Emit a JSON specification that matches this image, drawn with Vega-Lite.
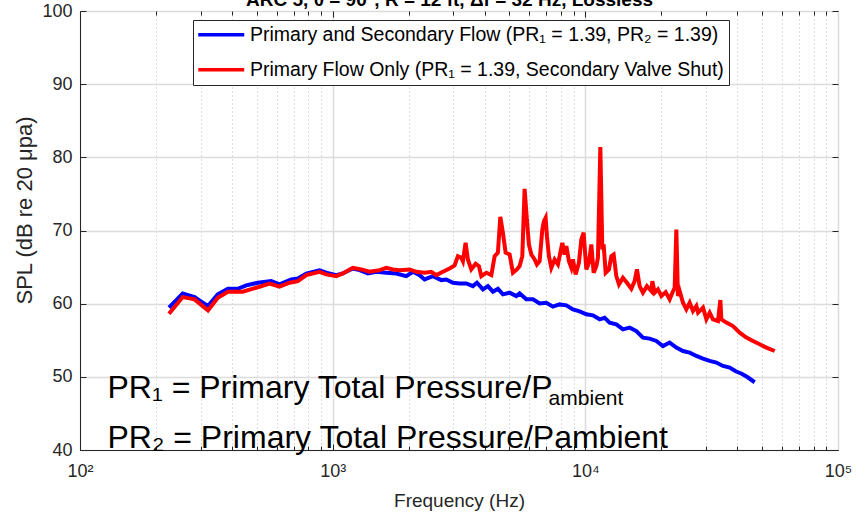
{
  "$schema": "https://vega.github.io/schema/vega-lite/v6.json",
  "width": 758,
  "height": 439,
  "autosize": {"type": "none"},
  "padding": {"left": 80, "top": 11, "right": 27, "bottom": 65},
  "background": "white",
  "config": {
    "view": {"stroke": "#262626", "strokeWidth": 1},
    "font": "Liberation Sans",
    "axis": {"domainColor": "#262626", "tickColor": "#262626", "labelColor": "#262626", "titleColor": "#262626", "labelFont": "Liberation Sans", "titleFont": "Liberation Sans", "labelFontSize": 18, "titleFontSize": 19, "titleFontWeight": "normal", "gridColor": "#DCDCDC", "gridWidth": 1.5, "gridOpacity": 1, "tickWidth": 1}
  },
  "datasets": {
    "spl": [
      {"s": "A", "f": 225, "db": 59.45}, {"s": "A", "f": 255, "db": 61.40}, {"s": "A", "f": 284, "db": 60.90}, {"s": "A", "f": 321, "db": 59.67},
      {"s": "A", "f": 351, "db": 61.27}, {"s": "A", "f": 385, "db": 62.04}, {"s": "A", "f": 421, "db": 62.04}, {"s": "A", "f": 455, "db": 62.50},
      {"s": "A", "f": 506, "db": 62.86}, {"s": "A", "f": 571, "db": 63.08}, {"s": "A", "f": 616, "db": 62.63}, {"s": "A", "f": 686, "db": 63.31},
      {"s": "A", "f": 728, "db": 63.45}, {"s": "A", "f": 786, "db": 64.09}, {"s": "A", "f": 887, "db": 64.54}, {"s": "A", "f": 943, "db": 64.23},
      {"s": "A", "f": 1033, "db": 63.90}, {"s": "A", "f": 1097, "db": 64.13}, {"s": "A", "f": 1202, "db": 64.81}, {"s": "A", "f": 1278, "db": 64.58},
      {"s": "A", "f": 1379, "db": 64.13}, {"s": "A", "f": 1488, "db": 64.36}, {"s": "A", "f": 1630, "db": 64.23}, {"s": "A", "f": 1785, "db": 64.13},
      {"s": "A", "f": 1956, "db": 63.76}, {"s": "A", "f": 2078, "db": 64.36}, {"s": "A", "f": 2208, "db": 63.90}, {"s": "A", "f": 2311, "db": 63.31},
      {"s": "A", "f": 2492, "db": 63.76}, {"s": "A", "f": 2691, "db": 63.22}, {"s": "A", "f": 2817, "db": 63.31}, {"s": "A", "f": 2992, "db": 62.86},
      {"s": "A", "f": 3180, "db": 62.77}, {"s": "A", "f": 3380, "db": 62.77}, {"s": "A", "f": 3590, "db": 62.40}, {"s": "A", "f": 3724, "db": 62.86},
      {"s": "A", "f": 3933, "db": 61.95}, {"s": "A", "f": 4116, "db": 62.40}, {"s": "A", "f": 4308, "db": 61.64}, {"s": "A", "f": 4508, "db": 62.04},
      {"s": "A", "f": 4718, "db": 61.27}, {"s": "A", "f": 5016, "db": 61.50}, {"s": "A", "f": 5332, "db": 61.04}, {"s": "A", "f": 5494, "db": 61.40},
      {"s": "A", "f": 5839, "db": 60.59}, {"s": "A", "f": 6203, "db": 60.59}, {"s": "A", "f": 6593, "db": 60.04}, {"s": "A", "f": 7008, "db": 60.13},
      {"s": "A", "f": 7442, "db": 59.59}, {"s": "A", "f": 7911, "db": 59.90}, {"s": "A", "f": 8410, "db": 59.77}, {"s": "A", "f": 8931, "db": 59.22},
      {"s": "A", "f": 9494, "db": 58.95}, {"s": "A", "f": 10092, "db": 58.54}, {"s": "A", "f": 10717, "db": 58.40}, {"s": "A", "f": 11392, "db": 57.86},
      {"s": "A", "f": 11923, "db": 58.06}, {"s": "A", "f": 12479, "db": 57.41}, {"s": "A", "f": 13264, "db": 57.17}, {"s": "A", "f": 14086, "db": 56.49},
      {"s": "A", "f": 14973, "db": 56.72}, {"s": "A", "f": 15914, "db": 56.26}, {"s": "A", "f": 16903, "db": 55.36}, {"s": "A", "f": 17966, "db": 55.22},
      {"s": "A", "f": 19096, "db": 54.90}, {"s": "A", "f": 20289, "db": 54.21}, {"s": "A", "f": 21564, "db": 54.68}, {"s": "A", "f": 22920, "db": 54.00},
      {"s": "A", "f": 24350, "db": 53.53}, {"s": "A", "f": 25880, "db": 53.31}, {"s": "A", "f": 27507, "db": 52.85}, {"s": "A", "f": 29219, "db": 52.50},
      {"s": "A", "f": 31055, "db": 52.17}, {"s": "A", "f": 33006, "db": 51.95}, {"s": "A", "f": 35061, "db": 51.49}, {"s": "A", "f": 37266, "db": 51.27},
      {"s": "A", "f": 39363, "db": 50.76}, {"s": "A", "f": 41577, "db": 50.42}, {"s": "A", "f": 43915, "db": 49.94}, {"s": "A", "f": 46802, "db": 49.26},
      {"s": "B", "f": 225, "db": 58.63}, {"s": "B", "f": 255, "db": 60.90}, {"s": "B", "f": 284, "db": 60.59}, {"s": "B", "f": 321, "db": 59.08},
      {"s": "B", "f": 351, "db": 60.82}, {"s": "B", "f": 385, "db": 61.64}, {"s": "B", "f": 441, "db": 61.64}, {"s": "B", "f": 498, "db": 62.18},
      {"s": "B", "f": 563, "db": 62.73}, {"s": "B", "f": 616, "db": 62.32}, {"s": "B", "f": 675, "db": 62.86}, {"s": "B", "f": 728, "db": 63.08},
      {"s": "B", "f": 786, "db": 63.90}, {"s": "B", "f": 887, "db": 64.36}, {"s": "B", "f": 943, "db": 64.00}, {"s": "B", "f": 1033, "db": 63.76},
      {"s": "B", "f": 1097, "db": 64.13}, {"s": "B", "f": 1202, "db": 64.91}, {"s": "B", "f": 1298, "db": 64.68}, {"s": "B", "f": 1400, "db": 64.36},
      {"s": "B", "f": 1534, "db": 64.58}, {"s": "B", "f": 1630, "db": 64.91}, {"s": "B", "f": 1731, "db": 64.68}, {"s": "B", "f": 1840, "db": 64.58},
      {"s": "B", "f": 2016, "db": 64.68}, {"s": "B", "f": 2143, "db": 64.36}, {"s": "B", "f": 2311, "db": 64.23}, {"s": "B", "f": 2457, "db": 64.36},
      {"s": "B", "f": 2571, "db": 63.90}, {"s": "B", "f": 2731, "db": 64.36}, {"s": "B", "f": 2902, "db": 64.81}, {"s": "B", "f": 3038, "db": 65.22},
      {"s": "B", "f": 3131, "db": 66.49}, {"s": "B", "f": 3229, "db": 66.27}, {"s": "B", "f": 3277, "db": 65.81}, {"s": "B", "f": 3358, "db": 68.32},
      {"s": "B", "f": 3429, "db": 66.04}, {"s": "B", "f": 3537, "db": 64.68}, {"s": "B", "f": 3680, "db": 65.46}, {"s": "B", "f": 3792, "db": 65.13},
      {"s": "B", "f": 3876, "db": 63.76}, {"s": "B", "f": 4057, "db": 64.23}, {"s": "B", "f": 4246, "db": 63.90}, {"s": "B", "f": 4376, "db": 66.49},
      {"s": "B", "f": 4508, "db": 66.96}, {"s": "B", "f": 4608, "db": 71.87}, {"s": "B", "f": 4718, "db": 69.69}, {"s": "B", "f": 4837, "db": 66.96},
      {"s": "B", "f": 5016, "db": 66.72}, {"s": "B", "f": 5170, "db": 64.23}, {"s": "B", "f": 5361, "db": 64.68}, {"s": "B", "f": 5494, "db": 65.13},
      {"s": "B", "f": 5630, "db": 66.49}, {"s": "B", "f": 5750, "db": 75.69}, {"s": "B", "f": 5871, "db": 71.50}, {"s": "B", "f": 5980, "db": 68.09},
      {"s": "B", "f": 6112, "db": 66.72}, {"s": "B", "f": 6299, "db": 66.04}, {"s": "B", "f": 6432, "db": 65.36}, {"s": "B", "f": 6593, "db": 65.81},
      {"s": "B", "f": 6757, "db": 70.13}, {"s": "B", "f": 6857, "db": 71.27}, {"s": "B", "f": 6964, "db": 71.73}, {"s": "B", "f": 7047, "db": 69.22},
      {"s": "B", "f": 7176, "db": 66.49}, {"s": "B", "f": 7335, "db": 64.91}, {"s": "B", "f": 7559, "db": 66.04}, {"s": "B", "f": 7790, "db": 65.36},
      {"s": "B", "f": 8109, "db": 68.32}, {"s": "B", "f": 8280, "db": 66.72}, {"s": "B", "f": 8410, "db": 67.86}, {"s": "B", "f": 8611, "db": 65.81},
      {"s": "B", "f": 8802, "db": 64.91}, {"s": "B", "f": 8931, "db": 66.04}, {"s": "B", "f": 9154, "db": 64.00}, {"s": "B", "f": 9433, "db": 65.59},
      {"s": "B", "f": 9642, "db": 68.77}, {"s": "B", "f": 9846, "db": 69.69}, {"s": "B", "f": 10092, "db": 64.68}, {"s": "B", "f": 10334, "db": 65.59},
      {"s": "B", "f": 10562, "db": 68.09}, {"s": "B", "f": 10786, "db": 64.23}, {"s": "B", "f": 11055, "db": 65.13}, {"s": "B", "f": 11217, "db": 66.27},
      {"s": "B", "f": 11465, "db": 81.39}, {"s": "B", "f": 11676, "db": 67.41}, {"s": "B", "f": 11815, "db": 68.09}, {"s": "B", "f": 12033, "db": 64.23},
      {"s": "B", "f": 12400, "db": 64.68}, {"s": "B", "f": 12675, "db": 66.49}, {"s": "B", "f": 12944, "db": 66.72}, {"s": "B", "f": 13264, "db": 63.76},
      {"s": "B", "f": 13588, "db": 62.63}, {"s": "B", "f": 14086, "db": 63.55}, {"s": "B", "f": 14609, "db": 62.86}, {"s": "B", "f": 15207, "db": 62.04},
      {"s": "B", "f": 15671, "db": 63.08}, {"s": "B", "f": 16004, "db": 64.68}, {"s": "B", "f": 16403, "db": 62.40}, {"s": "B", "f": 16903, "db": 61.50},
      {"s": "B", "f": 17529, "db": 62.40}, {"s": "B", "f": 18247, "db": 61.72}, {"s": "B", "f": 18414, "db": 63.08}, {"s": "B", "f": 18810, "db": 61.50},
      {"s": "B", "f": 19380, "db": 61.95}, {"s": "B", "f": 19996, "db": 61.04}, {"s": "B", "f": 20796, "db": 61.58}, {"s": "B", "f": 21564, "db": 60.59},
      {"s": "B", "f": 22103, "db": 61.50}, {"s": "B", "f": 22571, "db": 62.18}, {"s": "B", "f": 22920, "db": 70.13}, {"s": "B", "f": 23257, "db": 61.04},
      {"s": "B", "f": 23630, "db": 61.72}, {"s": "B", "f": 24350, "db": 60.13}, {"s": "B", "f": 25110, "db": 59.22}, {"s": "B", "f": 25880, "db": 60.13},
      {"s": "B", "f": 26670, "db": 58.99}, {"s": "B", "f": 27507, "db": 59.67}, {"s": "B", "f": 27935, "db": 58.77}, {"s": "B", "f": 29219, "db": 59.45},
      {"s": "B", "f": 30130, "db": 57.86}, {"s": "B", "f": 31055, "db": 58.77}, {"s": "B", "f": 32000, "db": 57.86}, {"s": "B", "f": 33490, "db": 57.63},
      {"s": "B", "f": 34230, "db": 60.49}, {"s": "B", "f": 34550, "db": 57.86}, {"s": "B", "f": 36160, "db": 57.41}, {"s": "B", "f": 38400, "db": 56.94},
      {"s": "B", "f": 40830, "db": 56.04}, {"s": "B", "f": 43390, "db": 55.36}, {"s": "B", "f": 46080, "db": 54.90}, {"s": "B", "f": 48980, "db": 54.45},
      {"s": "B", "f": 52060, "db": 54.00}, {"s": "B", "f": 56160, "db": 53.53}
    ]
  },
  "resolve": {"axis": {"x": "independent", "y": "independent"}},
  "layer": [
    {
      "data": {"name": "spl"},
      "transform": [{"filter": "datum.s == 'A'"}],
      "mark": {"type": "line", "strokeWidth": 4, "clip": true},
      "encoding": {
        "x": {"field": "f", "type": "quantitative", "scale": {"type": "log", "domain": [100, 100000], "nice": false},
          "axis": {"orient": "bottom", "values": [100, 1000, 10000, 100000], "labelExpr": "datum.value == 100 ? '10²' : datum.value == 1000 ? '10³' : datum.value == 10000 ? '10⁴' : '10⁵'", "labelFlush": false, "ticks": false, "grid": true, "domain": true, "labelPadding": 12, "labelBaseline": "top", "title": "Frequency (Hz)", "titleY": 56, "titleBaseline": "alphabetic"}},
        "y": {"field": "db", "type": "quantitative", "scale": {"domain": [40, 100], "nice": false, "zero": false},
          "axis": {"orient": "left", "values": [40, 50, 60, 70, 80, 90, 100], "ticks": false, "grid": true, "domain": true, "labelPadding": 8, "title": "SPL (dB re 20 μpa)", "titleFontSize": 22, "titleX": -49, "titleY": 199, "titleBaseline": "alphabetic", "titleAngle": 270}},
        "color": {"field": "s", "type": "nominal", "scale": {"domain": ["A", "B"], "range": ["#0000FF", "#FF0000"]},
          "legend": {"orient": "none", "legendX": 113, "legendY": 9, "direction": "vertical", "title": null,
            "labelExpr": "datum.value == 'A' ? 'Primary and Secondary Flow (PR₁ = 1.39, PR₂ = 1.39)' : 'Primary Flow Only (PR₁ = 1.39, Secondary Valve Shut)'",
            "labelFont": "Liberation Sans", "labelFontSize": 19.5, "labelColor": "#000000", "labelLimit": 800,
            "symbolType": "M-3,0H3", "symbolSize": 235, "symbolStrokeWidth": 3.5, "symbolOffset": 13.5, "labelOffset": 19,
            "strokeColor": "#262626", "fillColor": "white", "padding": 5, "rowPadding": 14, "cornerRadius": 0}}
      }
    },
    {
      "data": {"name": "spl"},
      "transform": [{"filter": "datum.s == 'B'"}],
      "mark": {"type": "line", "strokeWidth": 4, "clip": true},
      "encoding": {
        "x": {"field": "f", "type": "quantitative", "scale": {"type": "log", "domain": [100, 100000], "nice": false},
          "axis": {"orient": "bottom", "values": [200, 300, 400, 500, 600, 700, 800, 900, 2000, 3000, 4000, 5000, 6000, 7000, 8000, 9000, 20000, 30000, 40000, 50000, 60000, 70000, 80000, 90000], "labels": false, "ticks": true, "tickSize": -4, "grid": true, "gridDash": [1, 3], "gridColor": "#BDBDBD", "gridWidth": 1, "domain": false, "title": null}},
        "y": {"field": "db", "type": "quantitative", "scale": {"domain": [40, 100], "nice": false, "zero": false},
          "axis": {"orient": "left", "values": [40, 50, 60, 70, 80, 90, 100], "labels": false, "ticks": true, "tickSize": -6, "grid": false, "domain": false, "title": null}},
        "color": {"field": "s", "type": "nominal", "scale": {"domain": ["A", "B"], "range": ["#0000FF", "#FF0000"]}}
      }
    },
    {
      "data": {"values": [{}]},
      "mark": {"type": "text", "text": "PR₁ = Primary Total Pressure/P", "font": "Liberation Sans", "fontSize": 32, "align": "left", "baseline": "alphabetic", "color": "#000000"},
      "encoding": {
        "x": {"datum": 128.5, "type": "quantitative", "scale": {"type": "log", "domain": [100, 100000], "nice": false},
          "axis": {"orient": "bottom", "values": [1000, 10000], "labels": false, "ticks": true, "tickSize": -6, "grid": false, "domain": false, "title": null}},
        "y": {"datum": 47.11, "type": "quantitative", "scale": {"domain": [40, 100], "nice": false, "zero": false},
          "axis": {"orient": "right", "values": [40, 50, 60, 70, 80, 90, 100], "labels": false, "ticks": true, "tickSize": -6, "grid": false, "domain": false, "title": null}}
      }
    },
    {
      "data": {"values": [{}]},
      "mark": {"type": "text", "text": "ambient", "font": "Liberation Sans", "fontSize": 21, "align": "left", "baseline": "alphabetic", "color": "#000000"},
      "encoding": {
        "x": {"datum": 7156, "type": "quantitative", "scale": {"type": "log", "domain": [100, 100000], "nice": false},
          "axis": {"orient": "top", "values": [1000, 10000], "labels": false, "ticks": true, "tickSize": -6, "grid": false, "domain": false, "title": null}},
        "y": {"datum": 46.12, "type": "quantitative", "scale": {"domain": [40, 100], "nice": false, "zero": false}, "axis": null}
      }
    },
    {
      "data": {"values": [{}]},
      "mark": {"type": "text", "text": "PR₂ = Primary Total Pressure/Pambient", "font": "Liberation Sans", "fontSize": 32, "align": "left", "baseline": "alphabetic", "color": "#000000"},
      "encoding": {
        "x": {"datum": 128.5, "type": "quantitative", "scale": {"type": "log", "domain": [100, 100000], "nice": false},
          "axis": {"orient": "top", "values": [200, 300, 400, 500, 600, 700, 800, 900, 2000, 3000, 4000, 5000, 6000, 7000, 8000, 9000, 20000, 30000, 40000, 50000, 60000, 70000, 80000, 90000], "labels": false, "ticks": true, "tickSize": -4, "grid": false, "domain": false, "title": null}},
        "y": {"datum": 40.26, "type": "quantitative", "scale": {"domain": [40, 100], "nice": false, "zero": false}, "axis": null}
      }
    },
    {
      "data": {"values": [{}]},
      "mark": {"type": "text", "text": "ARC 5, θ = 90°, R = 12 ft, Δf = 32 Hz, Lossless", "font": "Liberation Sans", "fontSize": 19, "fontWeight": "bold", "align": "center", "baseline": "alphabetic", "color": "#000000"},
      "encoding": {
        "x": {"datum": 2902, "type": "quantitative", "scale": {"type": "log", "domain": [100, 100000], "nice": false}, "axis": null},
        "y": {"datum": 100.70, "type": "quantitative", "scale": {"domain": [40, 100], "nice": false, "zero": false}, "axis": null}
      }
    }
  ]
}
